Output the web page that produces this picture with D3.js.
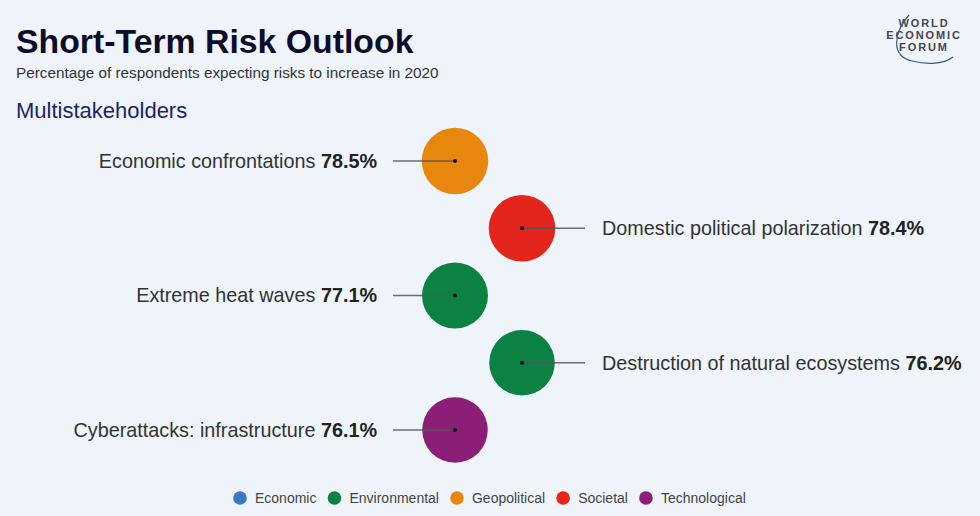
<!DOCTYPE html>
<html><head><meta charset="utf-8">
<script src="https://cdn.jsdelivr.net/npm/d3@7"></script>
<style>
html,body{margin:0;padding:0;background:#eef4fa;}
svg{display:block;font-family:"Liberation Sans",Arial,Helvetica,sans-serif;}
</style></head>
<body>
<svg id="chart" width="980" height="516"></svg>
<script>
const risks = ["Economic confrontations","Domestic political polarization","Extreme heat waves","Destruction of natural ecosystems","Cyberattacks: infrastructure"];
const values = [78.5, 78.4, 77.1, 76.2, 76.1];
const riskCategories = ["Geopolitical","Societal","Environmental","Environmental","Technological"];
const sides = ["left","right","left","right","left"];
const legendCategories = ["Economic","Environmental","Geopolitical","Societal","Technological"];
const categoryColors = ["#3a78c4","#0b8144","#e8870e","#e3251b","#8b1e76"];

const svg = d3.select("#chart");
svg.append("rect").attr("width",980).attr("height",516).attr("fill","#eef4fa");

// Header
svg.append("text").attr("x",16).attr("y",53).attr("font-size",33.8).attr("font-weight","bold")
  .attr("fill","#0d0d2b").text("Short-Term Risk Outlook");
svg.append("text").attr("x",16).attr("y",78).attr("font-size",15.3).attr("fill","#333")
  .text("Percentage of respondents expecting risks to increase in 2020");
svg.append("text").attr("x",16).attr("y",118).attr("font-size",22).attr("fill","#1c2463")
  .text("Multistakeholders");

// Logo
const logo = svg.append("g").attr("fill","#45454f").attr("font-size",11).attr("font-weight","bold")
  .attr("text-anchor","middle").attr("letter-spacing","1.9");
["WORLD","ECONOMIC","FORUM"].forEach((t,i)=>{
  logo.append("text").attr("x",924).attr("y",27+i*12).text(t);
});
svg.append("path").attr("d","M909,15 C894,32 890,56 912,61 C928,65 944,64 953,57")
  .attr("fill","none").attr("stroke","#2f5d8a").attr("stroke-width",1.2);

// Scales
const color = d3.scaleOrdinal().domain(legendCategories).range(categoryColors);
const y = d3.scalePoint().domain(risks).range([161,430]);
const x = d3.scaleOrdinal().domain(["left","right"]).range([455,522]);
const r = d3.scaleSqrt().domain([0,80]).range([0,33.6]);

const data = risks.map((d,i)=>({name:d,value:values[i],cat:riskCategories[i],side:sides[i]}));

const g = svg.append("g");
const items = g.selectAll("g.item").data(data).join("g").attr("class","item");

items.append("circle")
  .attr("cx",d=>x(d.side)).attr("cy",d=>y(d.name)).attr("r",d=>r(d.value))
  .attr("fill",d=>color(d.cat));

items.append("line")
  .attr("x1",d=>d.side==="left"?393:x(d.side))
  .attr("x2",d=>d.side==="left"?x(d.side):585)
  .attr("y1",d=>y(d.name)).attr("y2",d=>y(d.name))
  .attr("stroke","#555").attr("stroke-width",1.3).attr("stroke-opacity",0.85);

items.append("circle")
  .attr("cx",d=>x(d.side)).attr("cy",d=>y(d.name)).attr("r",2).attr("fill","#111");

const lab = items.append("text")
  .attr("x",d=>d.side==="left"?377:602)
  .attr("y",d=>y(d.name)).attr("dy","0.35em")
  .attr("text-anchor",d=>d.side==="left"?"end":"start")
  .attr("font-size",19.8).attr("fill","#333");
lab.append("tspan").text(d=>d.name+" ");
lab.append("tspan").attr("font-weight","bold").attr("fill","#222").text(d=>d.value.toFixed(1)+"%");

// Legend
const leg = svg.append("g");
let lx = 240;
legendCategories.forEach((c,i)=>{
  const it = leg.append("g");
  it.append("circle").attr("cx",lx).attr("cy",498).attr("r",6.8).attr("fill",color(c));
  const t = it.append("text").attr("x",lx+15).attr("y",498).attr("dy","0.35em")
    .attr("font-size",14).attr("fill","#444").text(c);
  lx += 15 + t.node().getComputedTextLength() + 18;
});
</script>
</body></html>
